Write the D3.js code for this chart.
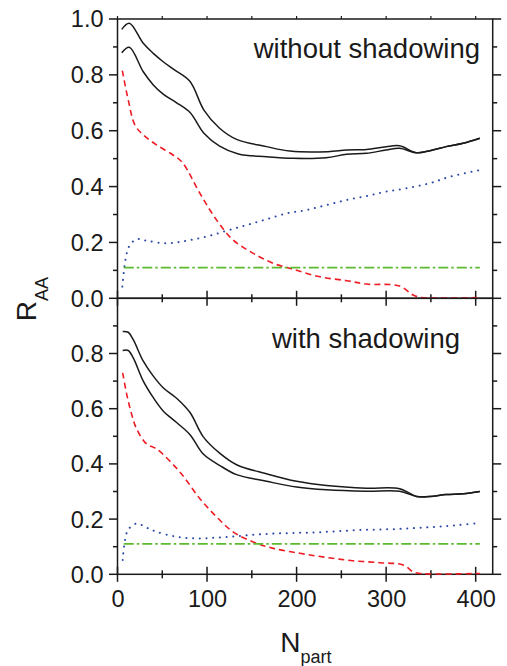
<!DOCTYPE html>
<html><head><meta charset="utf-8">
<script src="https://cdn.jsdelivr.net/npm/d3@7"></script>
<style>body{margin:0;background:#fff}svg{display:block}text{font-family:"Liberation Sans",Arial,sans-serif;fill:#1a1a1a}</style>
</head><body><svg id="c" width="507" height="666"></svg>
<script>
// ---- data ----
const panelTitles = ["without shadowing", "with shadowing"];
const yTickValues = [0, 0.2, 0.4, 0.6, 0.8, 1.0];
const xTickValues = [0, 100, 200, 300, 400];

// top panel (without shadowing)
const topUpperX = [4.7,13.2,28.8,40,51,64,81,96.5,114,133,166.5,192.5,235,256,278,300,315,334,352,367,386,404.6];
const topUpperY = [0.963,0.985,0.913,0.877,0.847,0.817,0.776,0.674,0.609,0.569,0.543,0.527,0.525,0.531,0.533,0.543,0.546,0.521,0.531,0.543,0.555,0.573];
const topLowerX = [4.7,13.2,28.8,40,51,66,81,96.5,114,135,166.5,196,233,256,278,300,315,334,352,367,386,404.6];
const topLowerY = [0.879,0.899,0.811,0.764,0.731,0.700,0.665,0.591,0.545,0.517,0.507,0.501,0.503,0.516,0.519,0.531,0.537,0.521,0.531,0.543,0.555,0.573];
const topRedX = [5.4,12,19.5,28.8,43.7,62,72.5,92,110.7,129,151.6,174,196,226,256,278,315,330,339.5,404.6];
const topRedY = [0.815,0.71,0.62,0.585,0.549,0.513,0.486,0.376,0.280,0.209,0.161,0.125,0.104,0.077,0.063,0.051,0.044,0.012,0.003,0.003];
const topBlueX = [5.4,7.3,9.5,13.2,21.4,32.6,55,77,99.5,122,144,166.5,189,211,233.5,256,278,300,322.8,348.8,371,404.6];
const topBlueY = [0.042,0.101,0.149,0.187,0.212,0.206,0.197,0.206,0.221,0.242,0.262,0.283,0.304,0.316,0.334,0.352,0.366,0.382,0.394,0.412,0.435,0.459];
const topGreenX = [7, 404.6];
const topGreenY = [0.11, 0.11];

// bottom panel (with shadowing)
const botUpperX = [5.8,12,17.6,28.8,40,51,66,81,95.8,114.4,133,166.5,200,233.5,278,315,334,349,367,386,404.6];
const botUpperY = [0.880,0.877,0.850,0.772,0.718,0.676,0.638,0.586,0.498,0.438,0.397,0.364,0.337,0.322,0.312,0.310,0.282,0.282,0.289,0.292,0.300];
const botLowerX = [5.8,12,17.6,28.8,40,51,66,81,95.8,114.4,133,166.5,200,233.5,278,315,334,349,367,386,404.6];
const botLowerY = [0.811,0.811,0.784,0.700,0.640,0.592,0.550,0.506,0.436,0.394,0.361,0.337,0.316,0.306,0.301,0.301,0.282,0.282,0.289,0.292,0.300];
const botRedX = [5.8,10.3,15.8,21.4,32.6,43.7,69.8,92,110.7,129,151.6,174,203.7,233.5,263,293,319,330,337.6,404.6];
const botRedY = [0.730,0.652,0.580,0.526,0.472,0.454,0.370,0.274,0.208,0.154,0.117,0.094,0.076,0.061,0.049,0.042,0.034,0.009,0.003,0.003];
const botBlueX = [5.8,8.4,12,21.4,32.6,43.7,66,88.4,110.7,133,155,177.7,200,222,244.6,267,289,311.6,334,356,378.6,404.6];
const botBlueY = [0.052,0.124,0.162,0.184,0.169,0.154,0.136,0.130,0.133,0.138,0.144,0.148,0.150,0.152,0.156,0.160,0.162,0.164,0.168,0.172,0.178,0.186];
const botGreenX = [7, 404.6];
const botGreenY = [0.11, 0.11];

// ---- drawing ----
const svg = d3.select("#c");
const left = 117.5, right = 492.7;
const x = d3.scaleLinear().domain([0, 419]).range([left, right]);
const panels = [
  {top: 19, bottom: 298.3, title: panelTitles[0], tx: 480, ty: 58, labels: yTickValues,
   series: [[topUpperX, topUpperY, "k"], [topLowerX, topLowerY, "k"], [topRedX, topRedY, "r"], [topBlueX, topBlueY, "b"], [topGreenX, topGreenY, "g"]]},
  {top: 298.3, bottom: 574.3, title: panelTitles[1], tx: 460, ty: 348, labels: yTickValues.filter(v => v < 1),
   series: [[botUpperX, botUpperY, "k"], [botLowerX, botLowerY, "k"], [botRedX, botRedY, "r"], [botBlueX, botBlueY, "b"], [botGreenX, botGreenY, "g"]]}
];
const styles = {
  k: {stroke: "#1a1a1a", w: 1.5, dash: null, cap: "butt"},
  r: {stroke: "#ee1c25", w: 1.6, dash: "6,4", cap: "butt"},
  b: {stroke: "#2b4aa8", w: 2, dash: "0.1,6.6", cap: "round"},
  g: {stroke: "#5cba2e", w: 1.8, dash: "10,3,2.5,3", cap: "butt"}
};

panels.forEach((p, i) => {
  const y = d3.scaleLinear().domain([0, 1]).range([p.bottom, p.top]);
  const g = svg.append("g");
  // frame
  g.append("rect").attr("x", left).attr("y", p.top).attr("width", right - left).attr("height", p.bottom - p.top)
    .attr("fill", "none").attr("stroke", "#1a1a1a").attr("stroke-width", 1.5);
  // y ticks (outward), both sides
  d3.range(0, 11).forEach(t => {
    const v = t / 10, major = t % 2 === 0;
    if (i === 1 && t === 10) return;
    const len = major ? 8.5 : 4.5;
    g.append("line").attr("x1", left - len).attr("x2", left).attr("y1", y(v)).attr("y2", y(v))
      .attr("stroke", "#1a1a1a").attr("stroke-width", 1.5);
    g.append("line").attr("x1", right).attr("x2", right + len).attr("y1", y(v)).attr("y2", y(v))
      .attr("stroke", "#1a1a1a").attr("stroke-width", 1.5);
  });
  p.labels.forEach(v => {
    g.append("text").attr("x", 103.5).attr("y", y(v)).attr("dy", "0.36em")
      .attr("text-anchor", "end").attr("font-size", 23.5).text(d3.format(".1f")(v));
  });
  // x ticks on the bottom line (crossing)
  d3.range(0, 420, 50).forEach(v => {
    const major = v % 100 === 0;
    const len = major ? 7.5 : 4;
    g.append("line").attr("x1", x(v)).attr("x2", x(v)).attr("y1", p.bottom - len).attr("y2", p.bottom + len)
      .attr("stroke", "#1a1a1a").attr("stroke-width", 1.5);
    if (i === 0) {
      g.append("line").attr("x1", x(v)).attr("x2", x(v)).attr("y1", p.top - 3).attr("y2", p.top)
        .attr("stroke", "#1a1a1a").attr("stroke-width", 1.2);
    }
  });
  // series (drawn over the frame)
  p.series.forEach(([xs, ys, k]) => {
    const s = styles[k];
    const pts = xs.map((v, j) => [v, ys[j]]);
    g.append("path").datum(pts)
      .attr("d", d3.line().x(d => x(d[0])).y(d => y(d[1])).curve(d3.curveCatmullRom.alpha(0.5)))
      .attr("fill", "none").attr("stroke", s.stroke).attr("stroke-width", s.w)
      .attr("stroke-dasharray", s.dash).attr("stroke-linecap", s.cap);
  });
  // title
  g.append("text").attr("x", p.tx).attr("y", p.ty).attr("text-anchor", "end")
    .attr("font-size", 27.5).text(p.title);
});

// bottom x tick labels
const xa = svg.append("g").attr("transform", "translate(0,574.3)")
  .call(d3.axisBottom(x).tickValues(xTickValues).tickSize(0).tickPadding(0).tickFormat(d3.format("d")));
xa.select(".domain").remove();
xa.selectAll("text").attr("font-size", 23.5).attr("dy", null).attr("y", 32.5)
  .style("font-family", '"Liberation Sans",Arial,sans-serif').attr("fill", "#1a1a1a");

// axis titles
const xt = svg.append("text").attr("x", 306).attr("y", 651.7).attr("text-anchor", "middle").attr("font-size", 28);
xt.append("tspan").text("N");
xt.append("tspan").attr("font-size", 18).attr("dy", 11).text("part");

const yt = svg.append("text").attr("transform", "translate(36,299) rotate(-90)").attr("text-anchor", "middle").attr("font-size", 28);
yt.append("tspan").text("R");
yt.append("tspan").attr("font-size", 18).attr("dy", 12).text("AA");
</script></body></html>
